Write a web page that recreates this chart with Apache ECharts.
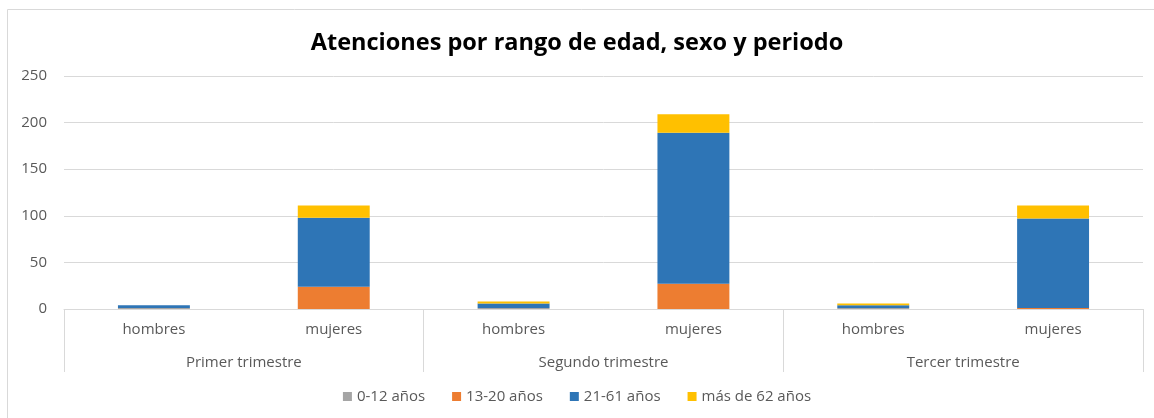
<!DOCTYPE html>
<html>
<head>
<meta charset="utf-8">
<script src="https://cdn.jsdelivr.net/npm/echarts@6/dist/echarts.min.js"></script>
<style>
  html, body { margin: 0; padding: 0; background: #fff; }
  #chart { width: 1154px; height: 418px; }
</style>
</head>
<body>
<div id="chart"></div>
<script>
// datos
var sexos = ['hombres', 'mujeres', 'hombres', 'mujeres', 'hombres', 'mujeres'];
var periodos = ['Primer trimestre', 'Segundo trimestre', 'Tercer trimestre'];
var rangos = ['0-12 años', '13-20 años', '21-61 años', 'más de 62 años'];
var colores = ['#a5a5a5', '#ed7d31', '#2e75b6', '#ffc000'];

var edad0_12  = [1, 0, 1, 0, 1, 0];
var edad13_20 = [0, 24, 0, 27, 0, 1];
var edad21_61 = [3, 74, 5, 162, 3, 96];
var edad62    = [0, 13, 2, 20, 2, 14];
var valoresY  = [0, 50, 100, 150, 200, 250];

var series_data = [edad0_12, edad13_20, edad21_61, edad62];

var chart = echarts.init(document.getElementById('chart'));

var txtColor = '#595959';
var fuente = 'Open Sans';

var series = [];
for (var i = 0; i < rangos.length; i++) {
  series.push({
    name: rangos[i],
    type: 'bar',
    stack: 'total',
    barWidth: '40%',
    xAxisIndex: 0,
    data: series_data[i],
    itemStyle: { color: colores[i] }
  });
}

var option = {
  animation: false,
  textStyle: { fontFamily: fuente },
  graphic: [
    {
      type: 'rect',
      shape: { x: 7.5, y: 9.5, width: 1160, height: 430 },
      style: { fill: 'none', stroke: '#d9d9d9', lineWidth: 1 },
      silent: true
    }
  ],
  title: {
    text: 'Atenciones por rango de edad, sexo y periodo',
    left: 'center',
    top: 26,
    textStyle: { fontSize: 23.5, fontWeight: 'bold', color: '#000', fontFamily: fuente }
  },
  legend: {
    bottom: 9,
    left: 'center',
    itemWidth: 9,
    itemHeight: 9,
    itemGap: 27,
    icon: 'rect',
    textStyle: { fontSize: 15, color: txtColor, fontFamily: fuente },
    data: rangos
  },
  grid: { left: 64, right: 11, top: 76, bottom: 109 },
  xAxis: [
    {
      type: 'category',
      data: sexos,
      axisLine: { lineStyle: { color: '#d9d9d9' } },
      axisTick: { show: false },
      axisLabel: { fontSize: 15, color: txtColor, margin: 13 }
    },
    {
      type: 'category',
      data: periodos,
      position: 'bottom',
      offset: 63,
      axisLine: { show: false },
      axisTick: { show: true, inside: true, length: 63, lineStyle: { color: '#d9d9d9' } },
      axisLabel: { fontSize: 15, color: txtColor, inside: true, margin: 2 }
    }
  ],
  yAxis: {
    type: 'value',
    min: valoresY[0],
    max: valoresY[valoresY.length - 1],
    interval: 50,
    axisLine: { show: false },
    axisTick: { show: false },
    axisLabel: { fontSize: 15, color: txtColor, margin: 17 },
    splitLine: { lineStyle: { color: '#d9d9d9' } }
  },
  series: series
};

chart.setOption(option);
</script>
</body>
</html>
